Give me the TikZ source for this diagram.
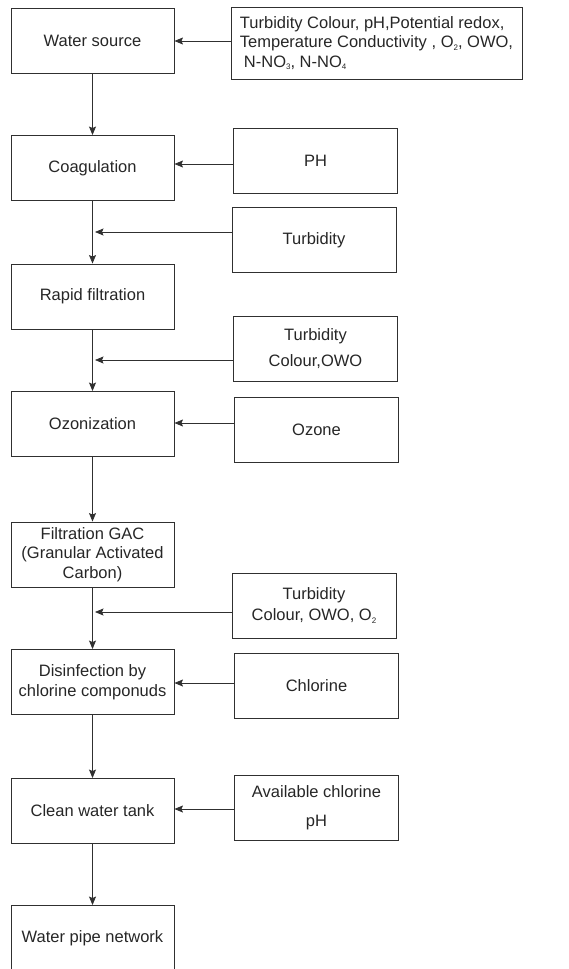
\documentclass[tikz,border=0pt]{standalone}
\usepackage{fontspec}
\setmainfont{Liberation Sans}
\usepackage{tikz}
\usetikzlibrary{arrows.meta}
\definecolor{linegray}{HTML}{303030}
\definecolor{txtgray}{HTML}{262626}
\newcommand{\lowsub}[1]{\raisebox{-2.5pt}{\fontsize{8}{8}\selectfont #1}}

\begin{document}
\begin{tikzpicture}[x=1pt,y=1pt]
\tikzstyle{every node}+=[inner sep=0pt, text=txtgray, font=\fontsize{16.5}{19.5}\selectfont]
\tikzstyle{stage}=[draw=linegray, line width=0.9pt, minimum width=163pt, minimum height=65pt, align=center]
\tikzstyle{param}=[draw=linegray, line width=0.9pt, minimum width=164pt, minimum height=65pt, align=center]
\tikzstyle{flow}=[draw=linegray, line width=0.8pt, -{Stealth[length=8.5pt,width=7pt,inset=1.5pt]}]
\useasboundingbox (0,0) rectangle (569,-969);
\clip (0,0) rectangle (569,-969);
\node [stage] (src) at (92.5,-40.5) {Water source};
\node [stage] (coag) at (92.5,-168) {Coagulation};
\node [stage] (rapid) at (92.5,-296.5) {Rapid filtration};
\node [stage] (ozon) at (92.5,-424) {Ozonization};
\node [stage] (gac) at (92.5,-554.5) {Filtration GAC\\(Granular Activated\\Carbon)};
\node [stage] (disinf) at (92.5,-682) {Disinfection by\\chlorine componuds};
\node [stage] (tank) at (92.5,-811) {Clean water tank};
\node [stage] (pipe) at (92.5,-938) {Water pipe network};
\node [param, minimum width=291pt, minimum height=72pt, align=left] (srcpar) at (376.5,-43) {Turbidity Colour, pH,Potential redox,\\Temperature Conductivity , O\lowsub{2}, OWO,\\\hspace{4pt}N-NO\lowsub{3}, N-NO\lowsub{4}};
\node [param] (phin) at (315.5,-160.5) {PH};
\node [param] (turbA) at (314,-240) {Turbidity};
\node [param] (turbB) at (315.5,-348.5) {Turbidity\\[6pt]Colour,OWO};
\node [param] (ozone) at (316.5,-429.5) {Ozone};
\node [param] (turbC) at (314,-605.5) {Turbidity\\[2pt]Colour, OWO, O\lowsub{2}};
\node [param] (chlor) at (316.5,-685.5) {Chlorine};
\node [param] (avail) at (316.5,-807.5) {Available chlorine\\[10pt]pH};
\draw [flow] (src) -- (coag);
\draw [flow] (coag) -- (rapid);
\draw [flow] (rapid) -- (ozon);
\draw [flow] (ozon) -- (gac);
\draw [flow] (gac) -- (disinf);
\draw [flow] (disinf) -- (tank);
\draw [flow] (tank) -- (pipe);
\draw [flow] (srcpar.west) ++(0,2) coordinate (h1) -- (h1 -| src.east);
\draw [flow] (phin.west) ++(0,-3.5) coordinate (h2) -- (h2 -| coag.east);
\draw [flow, shorten >=2.5pt] (turbA.west) ++(0,8) coordinate (h3) -- (h3 -| coag.south);
\draw [flow, shorten >=2.5pt] (turbB.west) ++(0,-11.5) coordinate (h4) -- (h4 -| rapid.south);
\draw [flow] (ozone.west) ++(0,6.5) coordinate (h5) -- (h5 -| ozon.east);
\draw [flow, shorten >=2.5pt] (turbC.west) ++(0,-6.5) coordinate (h6) -- (h6 -| gac.south);
\draw [flow] (chlor.west) ++(0,2.5) coordinate (h7) -- (h7 -| disinf.east);
\draw [flow] (avail.west) ++(0,-1.5) coordinate (h8) -- (h8 -| tank.east);
\end{tikzpicture}
\end{document}
